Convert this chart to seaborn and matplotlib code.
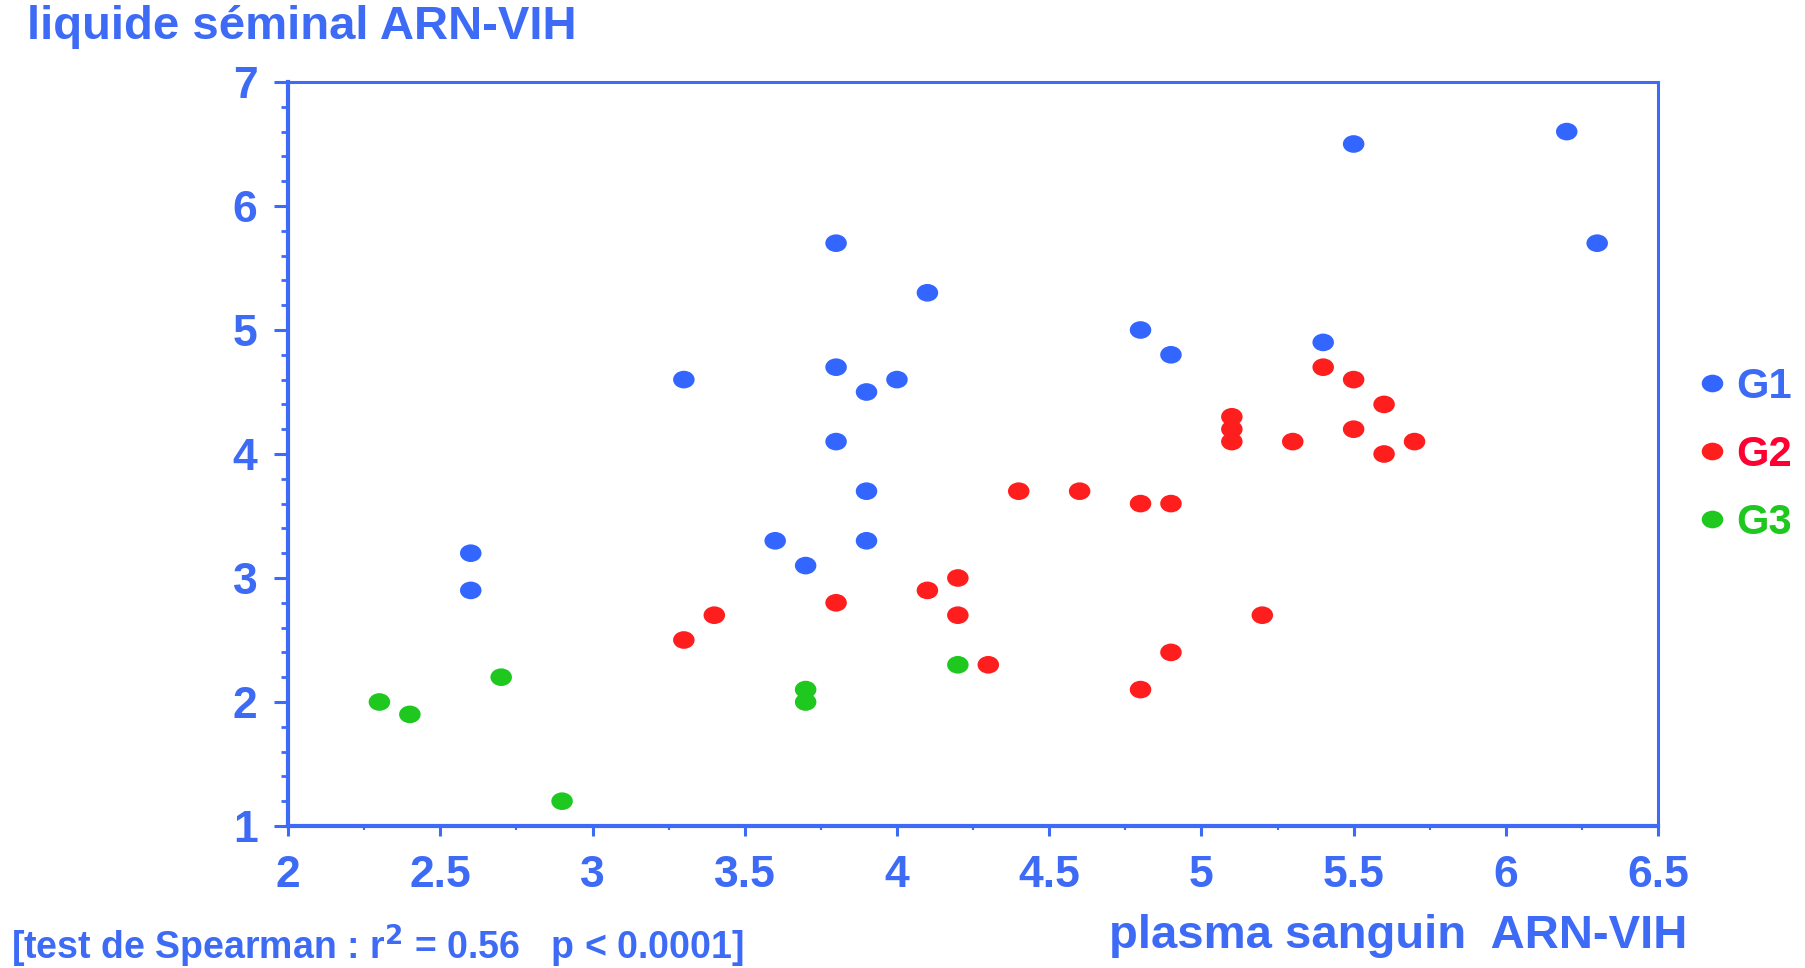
import matplotlib
matplotlib.use("Agg")
import matplotlib.pyplot as plt
import pandas as pd
import seaborn as sns
from matplotlib.path import Path
from matplotlib.transforms import Affine2D
from matplotlib.ticker import MultipleLocator

# Données
g1_x = [3.3, 3.8, 4.1, 3.8, 4.0, 3.9, 3.8, 3.9, 3.9, 3.6, 3.7, 2.6, 2.6, 4.8, 4.9, 5.4, 5.5, 6.2, 6.3]
g1_y = [4.6, 5.7, 5.3, 4.7, 4.6, 4.5, 4.1, 3.7, 3.3, 3.3, 3.1, 3.2, 2.9, 5.0, 4.8, 4.9, 6.5, 6.6, 5.7]
g2_x = [3.3, 3.4, 3.8, 4.1, 4.2, 4.2, 4.3, 4.4, 4.6, 4.8, 4.9, 4.8, 4.9, 5.2,
        5.1, 5.1, 5.1, 5.3, 5.4, 5.5, 5.5, 5.6, 5.6, 5.7]
g2_y = [2.5, 2.7, 2.8, 2.9, 3.0, 2.7, 2.3, 3.7, 3.7, 3.6, 3.6, 2.1, 2.4, 2.7,
        4.3, 4.2, 4.1, 4.1, 4.7, 4.6, 4.2, 4.4, 4.0, 4.1]
g3_x = [2.3, 2.4, 2.7, 2.9, 3.7, 3.7, 4.2]
g3_y = [2.0, 1.9, 2.2, 1.2, 2.1, 2.0, 2.3]

groupes = ["G1", "G2", "G3"]
couleurs = {"G1": "#3366FF", "G2": "#FF1E1E", "G3": "#1EC81E"}
couleurs_texte = ["#3D6BF5", "#FF0033", "#1EC81E"]
BLEU = "#3D6BF5"

df = pd.DataFrame({
    "plasma": g1_x + g2_x + g3_x,
    "seminal": g1_y + g2_y + g3_y,
    "groupe": ["G1"] * len(g1_x) + ["G2"] * len(g2_x) + ["G3"] * len(g3_x),
})

sns.set_style("white")
plt.rcParams["font.family"] = ["Liberation Sans", "DejaVu Sans"]
plt.rcParams["font.weight"] = "bold"

# marqueur ovale (un peu plus large que haut)
ovale = Path.unit_circle().transformed(Affine2D().scale(1.0, 0.82))

fig = plt.figure(figsize=(18.05, 9.68), dpi=100)
ax = fig.add_axes([0.1596, 0.1467, 0.7590, 0.7686])

sns.scatterplot(data=df, x="plasma", y="seminal", hue="groupe", hue_order=groupes,
                palette=couleurs, s=240, marker=ovale, linewidth=0, ax=ax)

ax.set_xlim(2, 6.5)
ax.set_ylim(1, 7)
ax.xaxis.set_major_locator(MultipleLocator(0.5))
ax.xaxis.set_minor_locator(MultipleLocator(0.25))
ax.yaxis.set_major_locator(MultipleLocator(1))
ax.yaxis.set_minor_locator(MultipleLocator(0.2))
ax.set_xticks([2, 2.5, 3, 3.5, 4, 4.5, 5, 5.5, 6, 6.5],
              ["2", "2.5", "3", "3.5", "4", "4.5", "5", "5.5", "6", "6.5"])

for cote in ["left", "bottom"]:
    ax.spines[cote].set_linewidth(3)
for cote in ["top", "right"]:
    ax.spines[cote].set_linewidth(2.2)
for sp in ax.spines.values():
    sp.set_color(BLEU)
    sp.set_visible(True)

ax.tick_params(axis="both", which="both", colors=BLEU, direction="out", labelsize=32,
               bottom=True, left=True, top=False, right=False)
ax.tick_params(axis="y", which="major", length=10, width=2.2, pad=12)
ax.tick_params(axis="y", which="minor", length=5, width=2)
ax.tick_params(axis="x", which="major", length=7, width=2.2, pad=14)
ax.tick_params(axis="x", which="minor", length=3, width=1.5)
for lab in ax.get_xticklabels() + ax.get_yticklabels():
    lab.set_fontweight("bold")

ax.set_xlabel("")
ax.set_ylabel("")

# Légende à droite
ax.legend(title=None, frameon=False, loc="center left", bbox_to_anchor=(1.027, 0.499),
          labelcolor=couleurs_texte, prop={"size": 30, "weight": "bold"},
          handlelength=0.8, handletextpad=0.2, labelspacing=0.67,
          borderpad=0, borderaxespad=0)

fig.text(0.015, 0.972, "liquide séminal ARN-VIH", color=BLEU, fontsize=34,
         fontweight="bold", ha="left", va="center")
fig.text(0.935, 0.033, "plasma sanguin  ARN-VIH", color=BLEU, fontsize=34,
         fontweight="bold", ha="right", va="center")
fig.text(0.006, 0.022, "[test de Spearman : r$^{\\mathbf{2}}$ = 0.56   p < 0.0001]", color=BLEU,
         fontsize=27, fontweight="bold", ha="left", va="center")

fig.savefig("out.png", dpi=100)
